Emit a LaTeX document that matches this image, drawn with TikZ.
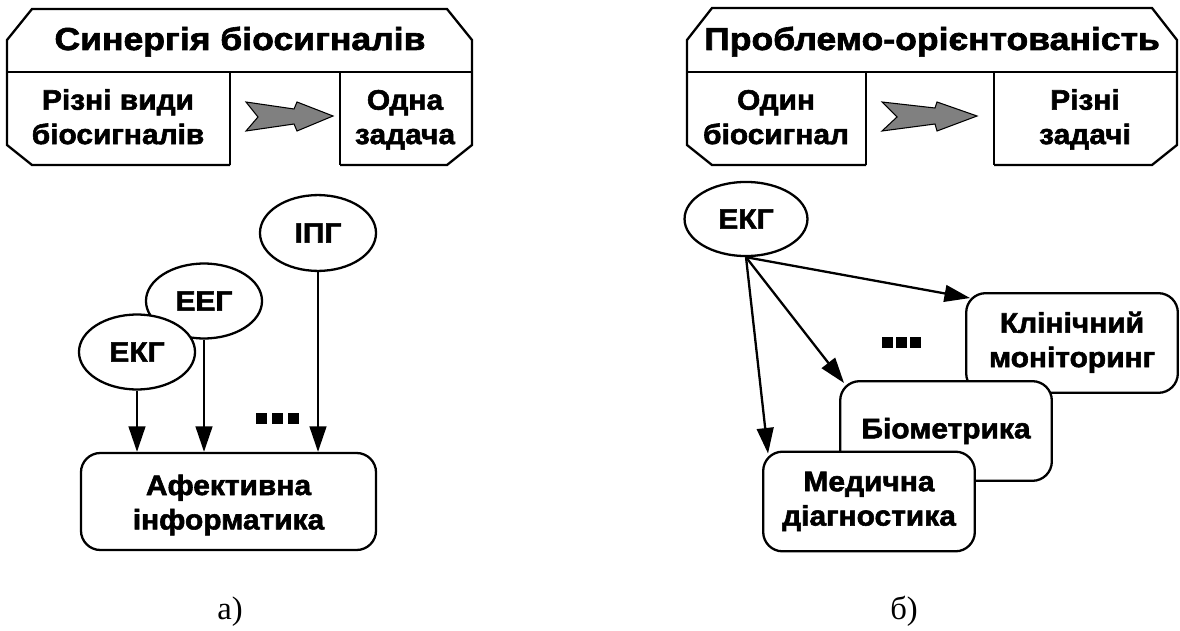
\documentclass[tikz,border=0pt]{standalone}
\usepackage{fontspec}
\setmainfont{Liberation Sans}[FakeStretch=1.06, BoldFeatures={FakeBold=2}]
\newfontfamily\titlefont{Liberation Sans}[FakeStretch=1.12, BoldFeatures={FakeBold=2}]
\newfontfamily\captionserif{Liberation Serif}
\usetikzlibrary{shapes.geometric,arrows.meta,calc}
\definecolor{arrowgray}{RGB}{128,128,128}
\newcommand\highstrut{\rule{0pt}{18pt}}

\begin{document}
\begin{tikzpicture}[x=0.567pt,y=-0.567pt,
  frame/.style={line width=1.3pt, line join=miter},
  ttl/.style={font=\titlefont\bfseries\fontsize{18}{20}\selectfont, inner sep=0, anchor=base},
  hdr/.style={font=\bfseries\fontsize{16}{19.5}\selectfont, align=center, inner sep=0},
  sig/.style={ellipse, draw, line width=1.3pt, fill=white, inner sep=0,
    font=\bfseries\fontsize{16}{20}\selectfont},
  task/.style={draw, rounded corners=11pt, line width=1.3pt, fill=white,
    minimum width=120pt, minimum height=56.5pt, inner sep=0, align=center,
    font=\bfseries\fontsize{16}{19.5}\selectfont},
  link/.style={line width=1.3pt, -{Triangle[length=14.5pt,width=9.5pt]}},
  fatarrow/.style={fill=arrowgray, draw=black, line width=0.6pt, line join=miter},
  sublabel/.style={font=\captionserif\fontsize{18.5}{20}\selectfont, inner sep=0, anchor=base}
]
\useasboundingbox (0,0) rectangle (1180,631);

% ---------- left header: synergy of biosignals ----------
\draw[frame] (230,165) -- (32,165) -- (7,145) -- (7,40) -- (32,9) -- (447,9)
  -- (472,40) -- (472,145) -- (447,165) -- (340,165);
\draw[frame] (7,72) -- (472,72);
\draw[frame] (230,72) -- (230,165);
\draw[frame] (340,72) -- (340,165);
\node[ttl] (titleA) at (240,50) {Синергія біосигналів};
\node[hdr] (srcA) at (118,120) {Різні види\strut\\біосигналів\strut};
\node[hdr] (dstA) at (405,120) {Одна\strut\\задача\strut};
\draw[fatarrow] (246,102) -- (294,109) -- (297,102) -- (333,116) -- (297,131)
  -- (294,124) -- (246,131) -- (258,117) -- cycle;

% ---------- right header: problem orientation ----------
\draw[frame] (866,165) -- (712,165) -- (687,145) -- (687,40) -- (712,8) -- (1152,8)
  -- (1177,40) -- (1177,145) -- (1152,165) -- (994,165);
\draw[frame] (687,72) -- (1177,72);
\draw[frame] (866,72) -- (866,165);
\draw[frame] (994,72) -- (994,165);
\node[ttl] (titleB) at (932,50) {Проблемо-орієнтованість};
\node[hdr] (srcB) at (776,120) {Один\strut\\біосигнал\strut};
\node[hdr] (dstB) at (1085,120) {Різні\strut\\задачі\strut};
\draw[fatarrow] (882,102) -- (935,108) -- (937,102) -- (977,116) -- (937,131)
  -- (935,124) -- (882,131) -- (897,117) -- cycle;

% ---------- left diagram: several signals, one task ----------
\node[sig, minimum width=65.8pt, minimum height=43pt] (ipg) at (318,233) {ІПГ};
\node[sig, minimum width=65.8pt, minimum height=42.5pt] (eeg) at (204,301) {ЕЕГ};
\node[sig, minimum width=65.8pt, minimum height=42.5pt] (ekgA) at (137,352) {ЕКГ};
\node[task, minimum width=167.3pt, minimum height=55pt] (affect) at (228.5,501.5)
  {\highstrut Афективна\\інформатика\strut};
\draw[link] (ekgA.south) -- (ekgA.south |- affect.north);
\draw[link] (eeg.south) -- (eeg.south |- affect.north);
\draw[link] (ipg.south) -- (ipg.south |- affect.north);
\foreach \x in {255.5,271.5,287.5}
  \fill (\x,412.5) rectangle +(11,11);

% ---------- right diagram: one signal, several tasks ----------
\node[sig, minimum width=69.7pt, minimum height=42pt] (ekgB) at (746,219) {ЕКГ};
\node[task] (clinic) at (1072,343) {Клінічний\strut\\моніторинг\strut};
\node[task] (biom) at (946,431) {Біометрика};
\node[task] (medic) at (869,501.5) {Медична\strut\\діагностика\strut};
\draw[link] (ekgB.south) -- ($(clinic.north west)+(5,6)$);
\draw[link] (ekgB.south) -- ($(biom.north west)+(5,3)$);
\draw[link] (ekgB.south) -- ($(medic.north west)+(6,3)$);
\foreach \x in {882,896,910}
  \fill (\x,336.5) rectangle +(11,11);

% ---------- captions ----------
\node[sublabel] (capA) at (230,619) {а)};
\node[sublabel] (capB) at (904,619) {б)};
\end{tikzpicture}
\end{document}
